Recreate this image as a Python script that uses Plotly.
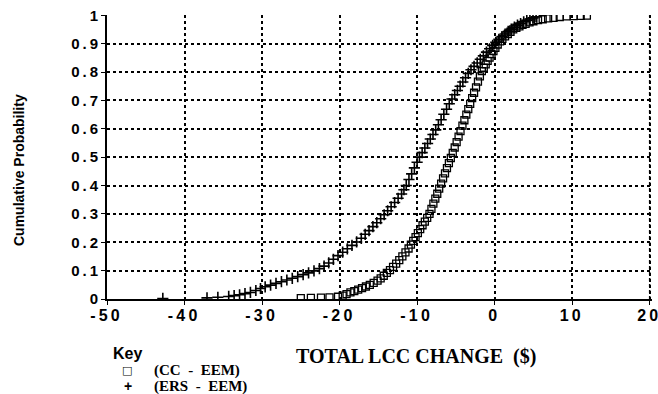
import plotly.graph_objects as go

# CC - EEM (open squares)
cc_x = [-25.0, -23.7, -22.4, -21.3, -20.2, -19.6, -19.1, -18.6, -18.1, -17.6, -17.1, -16.6,
        -16.1, -15.6, -15.1, -14.7, -14.3, -13.9, -13.5, -13.1, -12.7, -12.3, -11.9, -11.5,
        -11.1, -10.8, -10.5, -10.2, -9.9, -9.6, -9.3, -9.0, -8.7, -8.4, -8.15, -7.9, -7.65,
        -7.4, -7.15, -6.9, -6.65, -6.4, -6.15, -5.9, -5.65, -5.4, -5.15, -4.9, -4.65, -4.4,
        -4.15, -3.9, -3.65, -3.4, -3.15, -2.9, -2.65, -2.4, -2.15, -1.9, -1.65, -1.4, -1.15,
        -0.9, -0.65, -0.4, -0.15, 0.1, 0.4, 0.7, 1.0, 1.35, 1.7, 2.05, 2.4, 2.8, 3.2, 3.6,
        4.0, 4.5, 5.0, 5.6, 6.2, 6.9, 7.6, 8.4, 9.3, 10.2, 11.1, 11.9]
cc_y = [0.003, 0.004, 0.005, 0.006, 0.008, 0.012, 0.017, 0.023, 0.028, 0.033, 0.038, 0.044,
        0.050, 0.057, 0.065, 0.073, 0.082, 0.092, 0.102, 0.113, 0.125, 0.137, 0.150, 0.164,
        0.178, 0.192, 0.205, 0.218, 0.232, 0.246, 0.260, 0.273, 0.286, 0.300, 0.318, 0.336,
        0.354, 0.371, 0.389, 0.407, 0.425, 0.443, 0.461, 0.479, 0.497, 0.515, 0.534, 0.553,
        0.572, 0.592, 0.611, 0.630, 0.650, 0.669, 0.688, 0.708, 0.727, 0.746, 0.766, 0.785,
        0.803, 0.815, 0.827, 0.839, 0.851, 0.863, 0.874, 0.885, 0.897, 0.908, 0.917, 0.926,
        0.934, 0.942, 0.950, 0.956, 0.961, 0.966, 0.970, 0.975, 0.979, 0.983, 0.986, 0.989,
        0.991, 0.994, 0.996, 0.997, 0.998, 0.999]

# ERS - EEM (plus signs)
ers_x = [-42.8, -37.1, -35.7, -34.3, -33.6, -32.9, -32.2, -31.5, -30.8, -30.2, -29.6, -28.9,
         -28.2, -27.5, -26.8, -26.1, -25.4, -24.7, -24.0, -23.3, -22.6, -22.0, -21.4, -20.8,
         -20.2, -19.6, -19.0, -18.4, -17.8, -17.2, -16.7, -16.2, -15.7, -15.2, -14.7, -14.25,
         -13.8, -13.35, -12.9, -12.45, -12.0, -11.7, -11.4, -11.05, -10.7, -10.35, -10.0,
         -9.7, -9.35, -9.0, -8.65, -8.3, -7.95, -7.6, -7.25, -6.9, -6.55, -6.2, -5.85, -5.5,
         -5.15, -4.8, -4.45, -4.1, -3.75, -3.4, -3.05, -2.65, -2.25, -1.85, -1.45, -1.05,
         -0.65, -0.25, 0.15, 0.55, 0.95, 1.35, 1.75, 2.15, 2.55, 2.95, 3.35, 3.75, 4.15,
         4.55, 4.95, 5.35]
ers_y = [0.002, 0.004, 0.006, 0.009, 0.012, 0.015, 0.019, 0.023, 0.030, 0.037, 0.043, 0.049,
         0.055, 0.061, 0.067, 0.073, 0.079, 0.086, 0.092, 0.099, 0.107, 0.116, 0.127, 0.140,
         0.153, 0.165, 0.177, 0.189, 0.201, 0.214, 0.228, 0.241, 0.255, 0.269, 0.283, 0.297,
         0.311, 0.325, 0.340, 0.355, 0.370, 0.385, 0.400, 0.421, 0.441, 0.462, 0.482,
         0.500, 0.516, 0.532, 0.548, 0.564, 0.580, 0.596, 0.614, 0.632, 0.651, 0.669, 0.688,
         0.705, 0.720, 0.735, 0.750, 0.765, 0.780, 0.795, 0.808, 0.820, 0.832, 0.845, 0.857,
         0.870, 0.882, 0.894, 0.905, 0.915, 0.925, 0.934, 0.943, 0.951, 0.958, 0.965, 0.971,
         0.977, 0.982, 0.987, 0.991, 0.995]

x_ticks = [-50, -40, -30, -20, -10, 0, 10, 20]
x_tick_text = ["-\u20095\u20090", "-\u20094\u20090", "-\u20093\u20090", "-\u20092\u20090",
               "-\u20091\u20090", "0", "1\u20090", "2\u20090"]
y_ticks = [0, 0.1, 0.2, 0.3, 0.4, 0.5, 0.6, 0.7, 0.8, 0.9, 1]
y_tick_text = ["0", "0\u2009.\u20091", "0\u2009.\u20092", "0\u2009.\u20093", "0\u2009.\u20094",
               "0\u2009.\u20095", "0\u2009.\u20096", "0\u2009.\u20097", "0\u2009.\u20098",
               "0\u2009.\u20099", "1"]

# plot area in the reference picture (pixels), used to place the text annotations
PX0, PX1, PY0, PY1 = 107, 652, 15, 299
W, H = 658, 394


def px(x):
    return (x - PX0) / (PX1 - PX0)


def py(y):
    return (PY1 - y) / (PY1 - PY0)


fig = go.Figure()
fig.add_trace(go.Scatter(x=ers_x, y=ers_y, mode="markers", name="(ERS - EEM)",
                         marker=dict(symbol="cross-thin", size=8, color="black",
                                     line=dict(color="black", width=1.6))))
fig.add_trace(go.Scatter(x=cc_x, y=cc_y, mode="markers", name="(CC - EEM)",
                         marker=dict(symbol="square-open", size=7, color="black",
                                     line=dict(color="black", width=1.3))))

fig.update_layout(
    width=W, height=H,
    margin=dict(l=PX0, r=W - PX1, t=PY0, b=H - PY1),
    paper_bgcolor="white", plot_bgcolor="white",
    showlegend=False,
    font=dict(family="Liberation Sans", color="black"),
    xaxis=dict(range=[-50, 20.3], tickvals=x_ticks, ticktext=x_tick_text,
               showgrid=True, gridcolor="black", griddash="dot", gridwidth=1.5,
               showline=True, linecolor="black", linewidth=2,
               ticks="outside", ticklen=4, tickcolor="black",
               tickfont=dict(family="Liberation Sans", size=16, color="black", weight="bold"),
               ticklabeloverflow="allow", ticklabelstandoff=-3, ticklabelshift=-2,
               zeroline=False, automargin=False),
    yaxis=dict(range=[0, 1.001], tickvals=y_ticks, ticktext=y_tick_text,
               showgrid=True, gridcolor="black", griddash="dot", gridwidth=1.5,
               showline=True, linecolor="black", linewidth=2,
               ticks="outside", ticklen=4, tickcolor="black",
               tickfont=dict(family="Liberation Sans", size=15, color="black", weight="bold"),
               ticklabeloverflow="allow",
               zeroline=False, automargin=False),
)

# dotted right border at the last x tick
fig.add_shape(type="line", xref="x", yref="y", x0=x_ticks[-1], x1=x_ticks[-1],
              y0=y_ticks[0], y1=y_ticks[-1],
              line=dict(color="black", width=1.5, dash="dot"))

fig.add_annotation(xref="paper", yref="paper", x=px(19), y=py(170),
                   text="<b>Cumulative Probability</b>", textangle=-90, showarrow=False,
                   font=dict(family="Liberation Sans", size=14, color="black"),
                   xanchor="center", yanchor="middle")
fig.add_annotation(xref="paper", yref="paper", x=px(416), y=py(356),
                   text="<b>TOTAL LCC CHANGE\u00a0\u00a0($)</b>", showarrow=False,
                   font=dict(family="Liberation Serif", size=20, color="black"),
                   xanchor="center", yanchor="middle")
fig.add_annotation(xref="paper", yref="paper", x=px(111), y=py(353),
                   text="<b>Key</b>", showarrow=False,
                   font=dict(family="Liberation Sans", size=16, color="black"),
                   xanchor="left", yanchor="middle")
fig.add_annotation(xref="paper", yref="paper", x=px(127), y=py(370),
                   text="\u25a1", showarrow=False,
                   font=dict(family="DejaVu Sans", size=11, color="black"),
                   xanchor="center", yanchor="middle")
fig.add_annotation(xref="paper", yref="paper", x=px(152), y=py(370),
                   text="<b>(CC\u00a0\u00a0-\u00a0\u00a0EEM)</b>", showarrow=False,
                   font=dict(family="Liberation Serif", size=15, color="black"),
                   xanchor="left", yanchor="middle")
fig.add_annotation(xref="paper", yref="paper", x=px(128), y=py(386),
                   text="<b>+</b>", showarrow=False,
                   font=dict(family="Liberation Sans", size=14, color="black"),
                   xanchor="center", yanchor="middle")
fig.add_annotation(xref="paper", yref="paper", x=px(152), y=py(386),
                   text="<b>(ERS\u00a0\u00a0-\u00a0\u00a0EEM)</b>", showarrow=False,
                   font=dict(family="Liberation Serif", size=15, color="black"),
                   xanchor="left", yanchor="middle")

# put the figure at the top-left corner of the page (no default body margin)
fig.write_html("out.html",
               config={"displayModeBar": False},
               post_script="document.body.style.margin='0';"
                           "document.body.style.overflow='hidden';")
